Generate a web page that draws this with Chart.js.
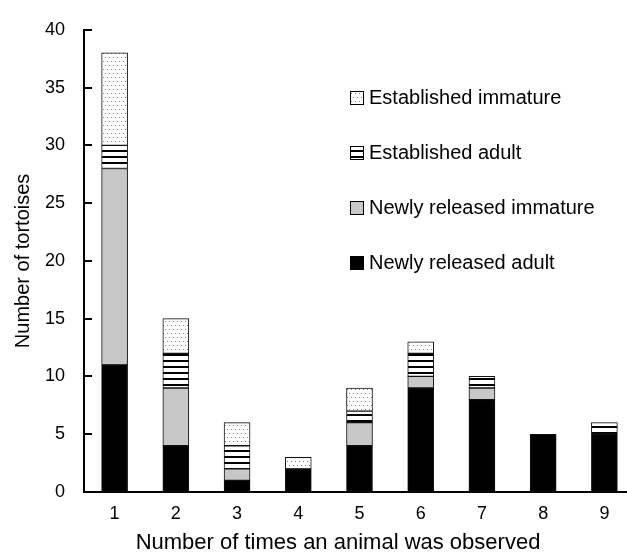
<!DOCTYPE html>
<html>
<head>
<meta charset="utf-8">
<script src="https://cdn.jsdelivr.net/npm/chart.js@4.4.1/dist/chart.umd.min.js"></script>
<style>
  html, body { margin: 0; padding: 0; background: #fff; }
  #wrap { width: 627px; height: 559px; overflow: hidden; }
</style>
</head>
<body>
<div id="wrap"><canvas id="chart" width="640" height="559"></canvas></div>
<script>
const categories = ['1', '2', '3', '4', '5', '6', '7', '8', '9'];
const newlyAdult = [11, 4, 1, 2, 4, 9, 8, 5, 5];
const newlyImmature = [17, 5, 1, 0, 2, 1, 1, 0, 0];
const establishedAdult = [2, 3, 2, 0, 1, 2, 1, 0, 1];
const establishedImmature = [8, 3, 2, 1, 2, 1, 0, 0, 0];
const yMax = 40;
const yStep = 5;
const xTitle = 'Number of times an animal was observed';
const yTitle = 'Number of tortoises';

// fill patterns like the original print
function makePattern(w, h, draw) {
  const c = document.createElement('canvas');
  c.width = w; c.height = h;
  const g = c.getContext('2d');
  g.fillStyle = '#fff';
  g.fillRect(0, 0, w, h);
  draw(g);
  return g.createPattern(c, 'repeat');
}
const dots = makePattern(8, 8, g => {
  g.fillStyle = '#808080';
  g.fillRect(1, 1, 1, 1);
  g.fillRect(5, 1, 1, 1);
  g.fillRect(3, 5, 1, 1);
  g.fillRect(7, 5, 1, 1);
});
const stripes = makePattern(4, 6, g => {
  g.fillStyle = '#000';
  g.fillRect(0, 0, 4, 2);
});

const font = 'Liberation Sans, Arial, sans-serif';

// y ticks pointing into the plot, and the x title (sits a bit left of centre)
const axisExtras = {
  id: 'axisExtras',
  afterDraw(chart) {
    const ctx = chart.ctx;
    const y = chart.scales.y;
    const area = chart.chartArea;
    ctx.save();
    ctx.strokeStyle = '#000';
    ctx.lineWidth = 2;
    y.ticks.forEach(t => {
      const py = Math.round(y.getPixelForValue(t.value));
      ctx.beginPath();
      ctx.moveTo(y.right, py);
      ctx.lineTo(y.right + 8, py);
      ctx.stroke();
    });
    ctx.fillStyle = '#000';
    ctx.font = '22px ' + font;
    ctx.textAlign = 'center';
    ctx.textBaseline = 'middle';
    ctx.fillText(xTitle, area.left + 254, area.bottom + 51);
    ctx.restore();
  }
};

// legend inside the plot, top series first
const insideLegend = {
  id: 'insideLegend',
  afterDraw(chart) {
    const ctx = chart.ctx;
    const area = chart.chartArea;
    const x0 = area.left + 266;
    const y0 = area.top + 67;
    const gap = 55;
    const sets = chart.data.datasets.slice().reverse();
    ctx.save();
    ctx.font = '20px ' + font;
    ctx.textBaseline = 'middle';
    sets.forEach((ds, i) => {
      const cy = Math.round(y0 + i * gap);
      ctx.fillStyle = ds.backgroundColor;
      ctx.fillRect(x0, cy - 6, 13, 13);
      ctx.strokeStyle = '#000';
      ctx.lineWidth = 1;
      ctx.strokeRect(x0 + 0.5, cy - 5.5, 13, 13);
      ctx.fillStyle = '#000';
      ctx.fillText(ds.label, x0 + 19, cy + 1);
    });
    ctx.restore();
  }
};

const common = { borderColor: '#111', borderWidth: 1, borderSkipped: false, barThickness: 26 };

new Chart(document.getElementById('chart'), {
  type: 'bar',
  data: {
    labels: categories,
    datasets: [
      Object.assign({ label: 'Newly released adult', data: newlyAdult, backgroundColor: '#000' }, common),
      Object.assign({ label: 'Newly released immature', data: newlyImmature, backgroundColor: '#c8c8c8' }, common),
      Object.assign({ label: 'Established adult', data: establishedAdult, backgroundColor: stripes }, common),
      Object.assign({ label: 'Established immature', data: establishedImmature, backgroundColor: dots }, common)
    ]
  },
  options: {
    responsive: false,
    devicePixelRatio: 1,
    animation: false,
    layout: { padding: { left: 0, top: 25, right: 5, bottom: 0 } },
    plugins: { legend: { display: false }, tooltip: { enabled: false } },
    scales: {
      x: {
        stacked: true,
        grid: { display: false, drawTicks: false },
        border: { display: true, color: '#000', width: 2 },
        ticks: { color: '#000', font: { family: font, size: 18 }, padding: 11 },
        title: { display: false },
        afterFit(s) { s.height = 67; }
      },
      y: {
        stacked: true,
        min: 0,
        max: yMax,
        grid: { display: false, drawTicks: false },
        border: { display: true, color: '#000', width: 2 },
        ticks: { stepSize: yStep, color: '#000', font: { family: font, size: 18 }, padding: 19 },
        title: { display: true, text: yTitle, color: '#000',
                 font: { family: font, size: 20 }, padding: { top: 11, bottom: 0 } },
        afterFit(s) { s.width = 84; }
      }
    }
  },
  plugins: [axisExtras, insideLegend]
});
</script>
</body>
</html>
